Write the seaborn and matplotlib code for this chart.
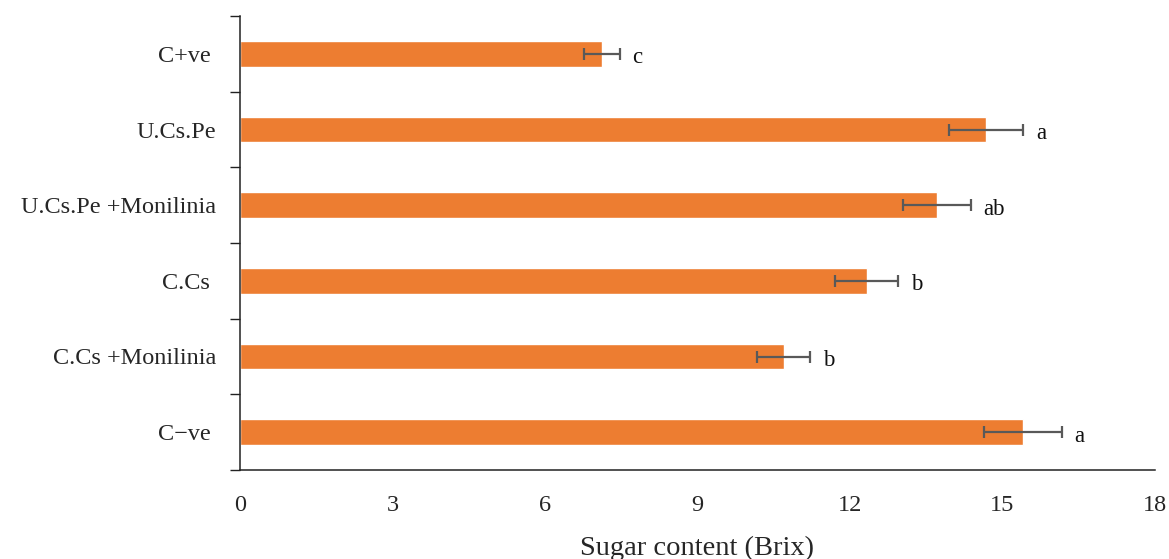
import matplotlib
matplotlib.use("Agg")
import matplotlib.pyplot as plt
import seaborn as sns
import pandas as pd
from matplotlib.ticker import FixedLocator

# Treatments and measured Brix values
treatments = ["C+ve ", "U.Cs.Pe", "U.Cs.Pe +Monilinia", "C.Cs ", "C.Cs +Monilinia", "C\u2212ve "]
brix = [7.12, 14.68, 13.71, 12.33, 10.70, 15.40]
brix_err = [0.35, 0.73, 0.67, 0.62, 0.52, 0.77]
groups = ["c", "a", "ab", "b", "b", "a"]

df = pd.DataFrame({"treatment": treatments, "brix": brix})

sns.set_style("white")
plt.rcParams["font.family"] = ["Liberation Serif", "DejaVu Serif"]

fig = plt.figure(figsize=(11.69, 5.59), dpi=100)
ax = fig.add_axes([240 / 1169, 1 - 470 / 559, 915 / 1169, 454 / 559])

sns.barplot(data=df, x="brix", y="treatment", orient="h", color="#ED7D31",
            width=0.34, saturation=1, errorbar=None, ax=ax)

ax.errorbar(brix, range(len(treatments)), xerr=brix_err, fmt="none",
            ecolor="#595959", elinewidth=1.6, capsize=4.5, capthick=1.6)

for i, (v, e, g) in enumerate(zip(brix, brix_err, groups)):
    ax.annotate(g, xy=(v + e, i), xytext=(9, -1), textcoords="offset points",
                ha="left", va="center_baseline", fontsize=16.5, color="#111111")

ax.set_xlim(0, 18)
ax.set_ylim(len(treatments) - 0.5, -0.5)
ax.set_xticks(range(0, 19, 3))
ax.tick_params(axis="x", which="major", direction="out", length=5, width=1,
               color="#222222", labelsize=17.5, pad=13)
ax.tick_params(axis="y", which="major", length=0, labelsize=17.5, pad=17)
ax.yaxis.set_minor_locator(FixedLocator([i - 0.5 for i in range(len(treatments) + 1)]))
ax.tick_params(axis="y", which="minor", direction="out", length=7, width=1,
               color="#222222", left=True)

for side in ["top", "right"]:
    ax.spines[side].set_visible(False)
for side in ["left", "bottom"]:
    ax.spines[side].set_color("#222222")
    ax.spines[side].set_linewidth(1.1)

ax.set_ylabel("")
ax.set_xlabel("Sugar content (Brix)", fontsize=20.5, labelpad=14)

fig.savefig("out.png", dpi=100, facecolor="white")
